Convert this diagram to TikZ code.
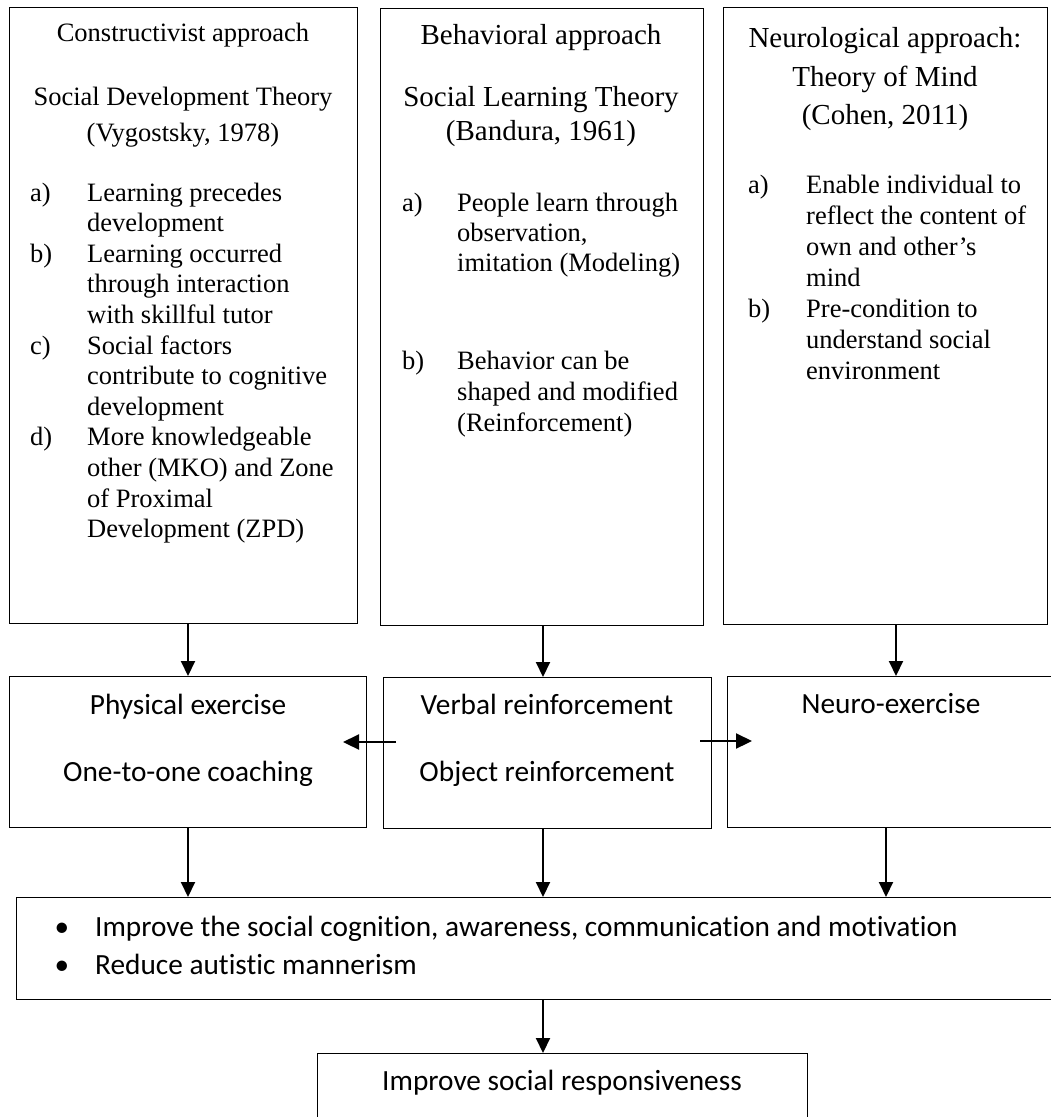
\documentclass[tikz,border=0pt]{standalone}
\usepackage{fontspec}
\setmainfont{Liberation Serif}[Ligatures=NoCommon]
\newfontfamily\calfont{Carlito}[Ligatures=NoCommon]
\usetikzlibrary{arrows.meta}
\begin{document}
\begin{tikzpicture}[x=1pt,y=-1pt,
  box/.style={draw, line width=1.3pt, inner sep=0pt, anchor=north west},
  tm/.style={font=\fontsize{26.5}{30.6}\selectfont, inner sep=0pt, anchor=base west},
  tmh/.style={font=\fontsize{26.5}{30.6}\selectfont, inner sep=0pt, anchor=base},
  tmH/.style={font=\fontsize{29}{34}\selectfont, inner sep=0pt, anchor=base},
  cal/.style={font=\calfont\fontsize{29.3}{35}\selectfont, inner sep=0pt, anchor=base},
  calw/.style={cal, anchor=base west},
  arr/.style={line width=2pt, -{Triangle[width=14pt,length=15pt]}},
  harr/.style={line width=2.2pt, -{Triangle[width=15pt,length=16pt]}}
]
\clip (0,0) rectangle (1051,1117);
\fill[white] (0,0) rectangle (1051,1117);

% ---------- boxes ----------
\node[box, minimum width=348pt, minimum height=616pt] (T1) at (9,7) {};
\node[box, minimum width=323pt, minimum height=617pt] (T2) at (380,8) {};
\node[box, minimum width=324pt, minimum height=617pt] (T3) at (723,7) {};
\node[box, minimum width=357pt, minimum height=151pt] (M1) at (9,676) {};
\node[box, minimum width=328pt, minimum height=151pt] (M2) at (383,677) {};
\node[box, minimum width=330pt, minimum height=151pt] (M3) at (727,676) {};
\node[box, minimum width=1060pt, minimum height=102pt] (B) at (16,897) {};
\node[box, minimum width=490pt, minimum height=100pt] (F) at (317,1053) {};

% ---------- left top box ----------
\node[tmh] (t1a) at (183,41) {Constructivist approach};
\node[tmh] (t1b) at (183,105) {Social Development Theory};
\node[tmh] (t1c) at (183,141) {(Vygostsky, 1978)};
\node[tm] (l1a) at (30,201) {a)};
\node[tm] (l1b) at (30,262.2) {b)};
\node[tm] (l1c) at (30,354) {c)};
\node[tm] (l1d) at (30,445.8) {d)};
\node[tm] (x1a) at (87,201) {Learning precedes};
\node[tm] (x1b) at (87,231.6) {development};
\node[tm] (x1c) at (87,262.2) {Learning occurred};
\node[tm] (x1d) at (87,292.8) {through interaction};
\node[tm] (x1e) at (87,323.4) {with skillful tutor};
\node[tm] (x1f) at (87,354) {Social factors};
\node[tm] (x1g) at (87,384.6) {contribute to cognitive};
\node[tm] (x1h) at (87,415.2) {development};
\node[tm] (x1i) at (87,445.8) {More knowledgeable};
\node[tm] (x1j) at (87,476.4) {other (MKO) and Zone};
\node[tm] (x1k) at (87,507) {of Proximal};
\node[tm] (x1l) at (87,537.6) {Development (ZPD)};

% ---------- middle top box ----------
\node[tmH] (t2a) at (541,44) {Behavioral approach};
\node[tmH] (t2b) at (541,106) {Social Learning Theory};
\node[tmH] (t2c) at (541,140) {(Bandura, 1961)};
\node[tm] (l2a) at (402,211) {a)};
\node[tm] (l2b) at (402,369) {b)};
\node[tm] (x2a) at (457,211) {People learn through};
\node[tm] (x2b) at (457,241) {observation,};
\node[tm] (x2c) at (457,271) {imitation (Modeling)};
\node[tm] (x2d) at (457,369) {Behavior can be};
\node[tm] (x2e) at (457,400) {shaped and modified};
\node[tm] (x2f) at (457,431) {(Reinforcement)};

% ---------- right top box ----------
\node[tmH] (t3a) at (885,47) {Neurological approach:};
\node[tmH] (t3b) at (885,86) {Theory of Mind};
\node[tmH] (t3c) at (885,124) {(Cohen, 2011)};
\node[tm] (l3a) at (748,193) {a)};
\node[tm] (l3b) at (748,317) {b)};
\node[tm] (x3a) at (806,193) {Enable individual to};
\node[tm] (x3b) at (806,224) {reflect the content of};
\node[tm] (x3c) at (806,255) {own and other’s};
\node[tm] (x3d) at (806,286) {mind};
\node[tm] (x3e) at (806,317) {Pre-condition to};
\node[tm] (x3f) at (806,348) {understand social};
\node[tm] (x3g) at (806,379) {environment};

% ---------- middle row ----------
\node[cal] (m1a) at (188,714) {Physical exercise};
\node[cal] (m1b) at (188,781) {One-to-one coaching};
\node[cal] (m2a) at (547,714) {Verbal reinforcement};
\node[cal] (m2b) at (547,781) {Object reinforcement};
\node[cal] (m3a) at (891,713) {Neuro-exercise};

% ---------- outcome boxes ----------
\node[cal] (bu1) at (62,936) {•};
\node[calw] (bt1) at (95,936) {Improve the social cognition, awareness, communication and motivation};
\node[cal] (bu2) at (62,974) {•};
\node[calw] (bt2) at (95,974) {Reduce autistic mannerism};
\node[cal] (ft) at (562,1090) {Improve social responsiveness};

% ---------- connectors ----------
\coordinate (ax1) at (188,0);
\coordinate (ax2) at (543,0);
\coordinate (ax3) at (896,0);
\coordinate (ax4) at (886,0);
\draw[arr] (T1.south -| ax1) -- (M1.north -| ax1);
\draw[arr] (T2.south -| ax2) -- (M2.north -| ax2);
\draw[arr] (T3.south -| ax3) -- (M3.north -| ax3);
\draw[arr] (M1.south -| ax1) -- (B.north -| ax1);
\draw[arr] (M2.south -| ax2) -- (B.north -| ax2);
\draw[arr] (M3.south -| ax4) -- (B.north -| ax4);
\draw[arr] (B.south -| ax2) -- (F.north -| ax2);
\coordinate (hlS) at (396,742);
\coordinate (hlE) at (343,742);
\coordinate (hrS) at (700,741);
\coordinate (hrE) at (752,741);
\draw[harr] (hlS) -- (hlE);
\draw[harr] (hrS) -- (hrE);
\end{tikzpicture}
\end{document}
